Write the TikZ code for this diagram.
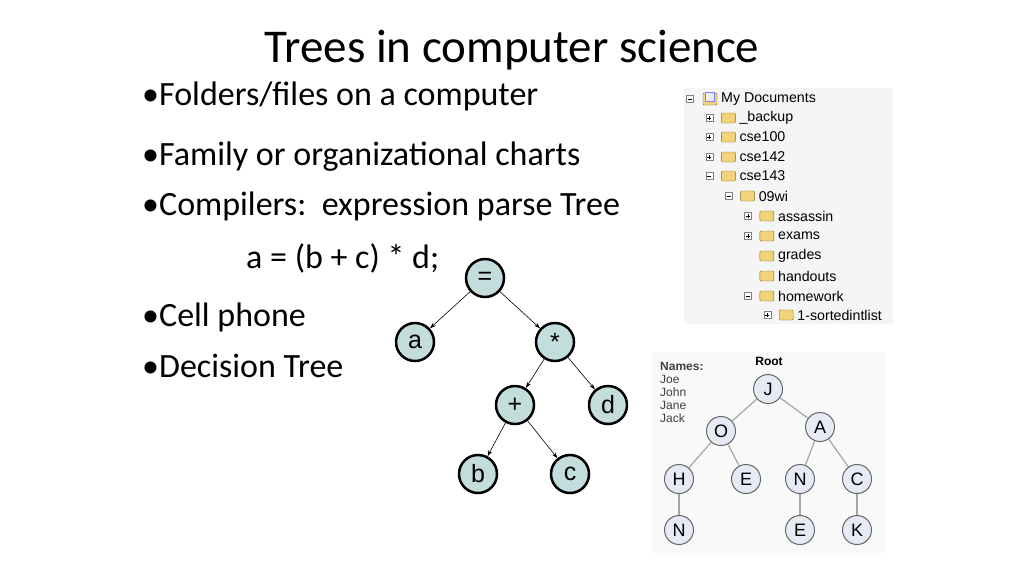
\documentclass[tikz,border=0pt]{standalone}
\usepackage{fontspec}
\setmainfont{Carlito}
\newfontfamily\uifont{Liberation Sans}
\usetikzlibrary{arrows.meta}
\definecolor{exfill}{HTML}{C3DCDC}
\definecolor{nmfill}{HTML}{E6EAF4}
\definecolor{folder}{HTML}{F2D27A}
\begin{document}
\begin{tikzpicture}[x=1pt,y=-1pt,
  ex/.style={circle,draw=black,line width=2.5pt,fill=exfill,minimum size=38pt,inner sep=0pt,font=\uifont\fontsize{25}{25}\selectfont},
  exe/.style={-{Stealth[length=6pt,width=4pt]},line width=0.6pt},
  nm/.style={circle,draw=gray!80!black,line width=1pt,fill=nmfill,minimum size=29pt,inner sep=0pt,font=\uifont\fontsize{18}{18}\selectfont},
  nme/.style={draw=gray!70,line width=1.2pt},
  bul/.style={anchor=west,font=\fontsize{34}{34}\selectfont,inner sep=0pt},
  fl/.style={anchor=west,font=\uifont\fontsize{14.2}{15}\selectfont,inner sep=0pt},
  pm/.style={draw=gray,line width=0.4pt,fill=white,minimum size=7pt,inner sep=0pt}]
\useasboundingbox (0,0) rectangle (1024,576);
\fill[white] (0,0) rectangle (1024,576);
\node[font=\fontsize{47}{47}\selectfont] (title) at (512,50) {Trees in computer science};
\node[bul] (b1) at (142,96) {\textbullet Folders/files on a computer};
\node[bul] (b2) at (142,157) {\textbullet Family or organizational charts};
\node[bul] (b3) at (142,206) {\textbullet Compilers:\ \ expression parse Tree};
\node[bul] (b3a) at (246,258) {a = (b + c) * d;};
\node[bul] (b4) at (142,317) {\textbullet Cell phone};
\node[bul] (b5) at (142,366) {\textbullet Decision Tree};
% expression tree
\node[ex] (eq) at (485,278) {=};
\node[ex] (a) at (415,342) {a};
\node[ex] (mul) at (555,342) {*};
\node[ex] (plus) at (515,405) {+};
\node[ex] (d) at (608,405) {d};
\node[ex] (b) at (478,474) {b};
\node[ex] (c) at (570,474) {c};
\draw[exe] (eq) -- (a); \draw[exe] (eq) -- (mul);
\draw[exe] (mul) -- (plus); \draw[exe] (mul) -- (d);
\draw[exe] (plus) -- (b); \draw[exe] (plus) -- (c);
% folder tree
\fill[gray!8] (684,88) rectangle (893,324);
\foreach \n/\lv/\y/\t/\s in {f1/1/118/\_backup/+, f2/1/137/cse100/+, f3/1/157/cse142/+, f4/1/176/cse143/-, f5/2/196/09wi/-, f6/3/216/assassin/+, f7/3/236/exams/+, f8/3/256/grades/n, f9/3/276/handouts/n, f10/3/296/homework/-, f11/4/315/1-sortedintlist/+}{
  \pgfmathsetmacro\bx{690+19.3*\lv}
  \if\s n\else
    \node[pm] (\n b) at (\bx,\y) {};
    \draw[line width=0.5pt] ([xshift=-2pt]\n b.center) -- ([xshift=2pt]\n b.center);
    \if\s +\draw[line width=0.5pt] ([yshift=-2pt]\n b.center) -- ([yshift=2pt]\n b.center);\fi
  \fi
  \filldraw[draw=olive!80!black,fill=folder,rounded corners=1pt,line width=0.4pt] (\bx+12,\y-5) rectangle (\bx+26,\y+5);
  \node[fl] (\n) at (\bx+30,\y) {\t};
}
\node[pm] (f0b) at (690,99) {};
\draw[line width=0.5pt] ([xshift=-2pt]f0b.center) -- ([xshift=2pt]f0b.center);
\filldraw[draw=olive!80!black,fill=folder,rounded corners=1pt,line width=0.4pt] (703,93) rectangle (717,105);
\filldraw[draw=blue!50,fill=blue!8,line width=0.4pt] (705,92) rectangle (714,101);
\node[fl] (f0) at (721,99) {My Documents};
% names tree
\fill[gray!5] (652,352) rectangle (885,553);
\node[font=\uifont\bfseries\fontsize{12}{12}\selectfont] (root) at (769,361) {Root};
\node[anchor=north west,align=left,font=\uifont\fontsize{12}{13}\selectfont,inner sep=0pt,text=black!75] (names) at (660,362) {\textbf{Names:}\\Joe\\John\\Jane\\Jack};
\node[nm] (J) at (768,389) {J};
\node[nm] (O) at (721,431) {O};
\node[nm] (A) at (820,427) {A};
\node[nm] (H) at (679,479) {H};
\node[nm] (E1) at (746,479) {E};
\node[nm] (N1) at (800,479) {N};
\node[nm] (C) at (857,479) {C};
\node[nm] (N2) at (679,530) {N};
\node[nm] (E2) at (800,530) {E};
\node[nm] (K) at (857,530) {K};
\foreach \p/\q in {J/O,J/A,O/H,O/E1,A/N1,A/C,H/N2,N1/E2,C/K}{\draw[nme] (\p) -- (\q);}
\end{tikzpicture}
\end{document}
